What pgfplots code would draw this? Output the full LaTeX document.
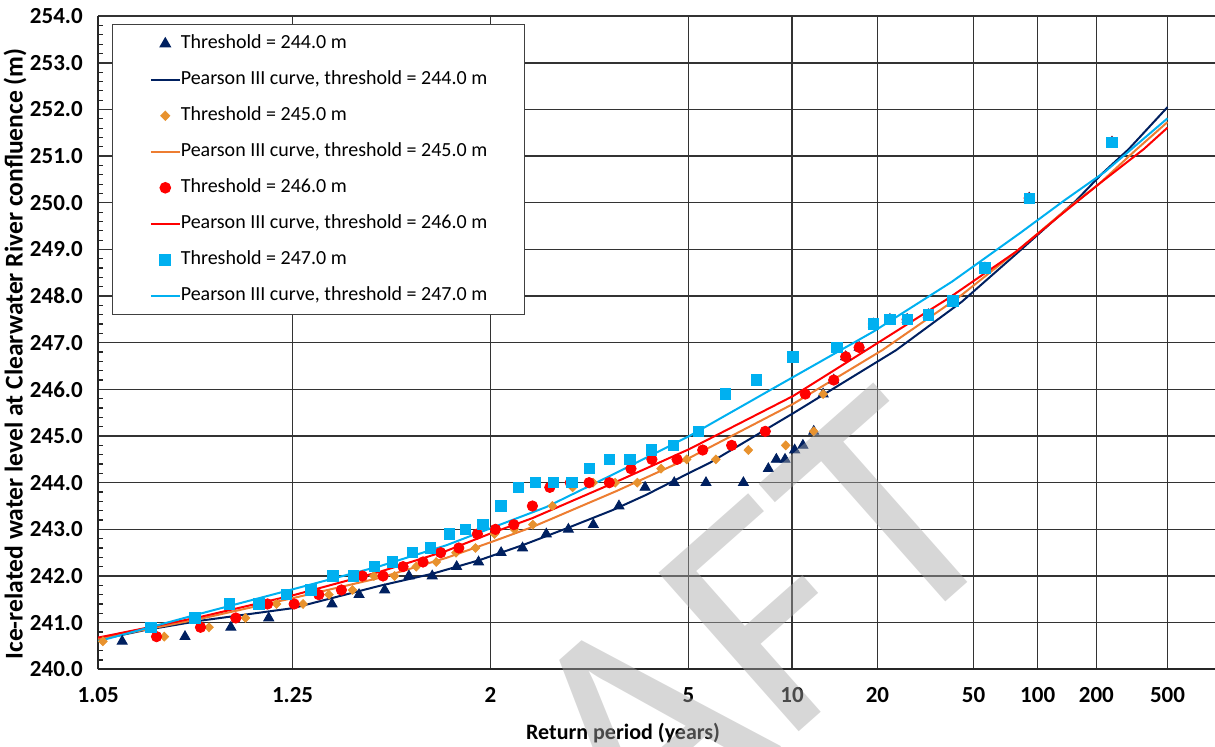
\documentclass[border=0pt]{standalone}
\usepackage{fontspec}
\setmainfont{Carlito}
\usepackage{pgfplots}
\pgfplotsset{compat=1.18}
\definecolor{navy}{HTML}{002060}
\definecolor{orng}{HTML}{ED7D31}
\definecolor{gold}{HTML}{E8922E}
\definecolor{cyanb}{HTML}{00B0F0}

% x positions are standard normal quantiles of the non-exceedance
% probability 1 - 1/T (normal probability paper)

\begin{document}
\begin{tikzpicture}
\useasboundingbox (-49.1pt,-38.85pt) rectangle (558.4pt,334.65pt);
\begin{axis}[
  at={(0,0)}, anchor=south west,
  scale only axis, width=558.4pt, height=326.55pt,
  xmin=-1.668, xmax=3.08, ymin=240, ymax=254,
  axis x line*=bottom, axis y line*=left,
  axis line style={-, black!85, line width=0.8pt},
  xtick={-1.668,-0.8416,0,0.8416,1.2816,1.6449,2.0537,2.3263,2.5758,2.8782},
  xticklabels={1.05,1.25,2,5,10,20,50,100,200,500},
  ytick distance=1, minor y tick num=4,
  grid=major, major grid style={black!80, line width=0.7pt},
  tick style={black!85, line width=0.6pt},
  major tick length=0pt, minor tick length=2.5pt,
  /pgf/number format/assume math mode=true,
  yticklabel style={/pgf/number format/fixed, /pgf/number format/fixed zerofill,
    /pgf/number format/precision=1, xshift=-4.2pt},
  xticklabel style={yshift=-5.5pt},
  tick label style={font=\fontsize{11.5}{13}\selectfont\bfseries},
  xlabel={Return period (years)},
  xlabel style={at={(axis description cs:0.47,-0.0975)}, anchor=center,
    font=\fontsize{11}{13}\selectfont\bfseries},
  ylabel={Ice-related water level at Clearwater River confluence (m)},
  ylabel style={at={(axis description cs:-0.0745,0.483)}, anchor=center,
    font=\fontsize{12.8}{14}\selectfont\bfseries},
  legend cell align=left,
  legend image code/.code={\draw[mark repeat=2,mark phase=2]
    plot coordinates {(0pt,0pt) (7.25pt,0pt) (14.5pt,0pt)};},
  legend style={at={(0,1)}, anchor=north west, xshift=7pt, yshift=-4pt,
    draw=black!75, line width=0.6pt, font=\fontsize{10}{12}\selectfont,
    inner xsep=18.5pt, inner ysep=5pt, row sep=9pt,
    nodes={inner sep=0pt, text height=7pt, text depth=2pt},
    /tikz/every even column/.append style={column sep=2pt}},
]

% Threshold = 244.0 m
\addplot[only marks, mark=triangle*, mark size=2.9pt, color=navy] coordinates {
(-1.566,240.6) (-1.299,240.7) (-1.104,240.9) (-0.943,241.1) (-0.674,241.4)
(-0.559,241.6) (-0.450,241.7) (-0.347,242.0) (-0.248,242.0) (-0.144,242.2)
(-0.051,242.3) (0.045,242.5) (0.136,242.6) (0.237,242.9) (0.331,243.0)
(0.437,243.1) (0.546,243.5) (0.657,243.9) (0.781,244.0) (0.916,244.0)
(1.075,244.0) (1.181,244.3) (1.215,244.5) (1.252,244.5) (1.293,244.7)
(1.328,244.8) (1.374,245.1) (1.414,245.9) (1.459,246.2) (1.510,246.7)
(1.567,246.9) (1.628,247.4) (1.698,247.5) (1.771,247.5) (1.861,247.6)
(1.966,247.9) (2.102,248.6) (2.290,250.1) (2.642,251.3)};
\addlegendentry{Threshold = 244.0 m}
\addplot[navy, line width=1pt] coordinates {
(-1.668,240.63) (-1.469,240.84) (-1.236,241.04) (-0.841,241.31) (-0.471,241.79)
(-0.246,242.05) (-0.047,242.34) (0.136,242.66) (0.323,243.02) (0.518,243.41)
(0.662,243.74) (0.845,244.21) (0.930,244.42) (1.287,245.49) (1.724,246.84)
(2.004,247.88) (2.234,248.90) (2.488,250.04) (2.599,250.62) (2.713,251.15)
(2.878,252.05)};
\addlegendentry{Pearson III curve, threshold = 244.0 m}

% Threshold = 245.0 m
\addplot[only marks, mark=diamond*, mark size=2.2pt, mark options={xscale=1.3}, color=gold] coordinates {
(-1.648,240.6) (-1.387,240.7) (-1.197,240.9) (-1.042,241.1) (-0.910,241.4)
(-0.797,241.4) (-0.687,241.6) (-0.587,241.7) (-0.496,242.0) (-0.408,242.0)
(-0.316,242.2) (-0.231,242.3) (-0.147,242.5) (-0.064,242.6) (0.017,242.9)
(0.101,243.0) (0.180,243.1) (0.263,243.5) (0.349,243.9) (0.436,244.0)
(0.530,244.0) (0.624,244.0) (0.725,244.3) (0.834,244.5) (0.958,244.5)
(1.096,244.7) (1.255,244.8) (1.374,245.1) (1.414,245.9) (1.459,246.2)
(1.510,246.7) (1.567,246.9) (1.628,247.4) (1.698,247.5) (1.771,247.5)
(1.861,247.6) (1.966,247.9) (2.102,248.6) (2.290,250.1) (2.642,251.3)};
\addlegendentry{Threshold = 245.0 m}
\addplot[orng, line width=1pt] coordinates {
(-1.668,240.65) (-1.236,241.08) (-0.837,241.53) (-0.471,241.96) (-0.187,242.39)
(0.004,242.73) (0.178,243.05) (0.535,243.82) (0.845,244.53) (1.287,245.69)
(1.665,246.84) (1.992,247.98) (2.234,248.95) (2.446,249.85) (2.586,250.40)
(2.743,251.13) (2.878,251.73)};
\addlegendentry{Pearson III curve, threshold = 245.0 m}

% Threshold = 246.0 m
\addplot[only marks, mark=*, mark size=2.6pt, color=red] coordinates {
(-1.420,240.7) (-1.233,240.9) (-1.083,241.1) (-0.948,241.4) (-0.835,241.4)
(-0.730,241.6) (-0.634,241.7) (-0.545,242.0) (-0.457,242.0) (-0.372,242.2)
(-0.287,242.3) (-0.212,242.5) (-0.135,242.6) (-0.056,242.9) (0.021,243.0)
(0.099,243.1) (0.178,243.5) (0.252,243.9) (0.339,244.0) (0.419,244.0)
(0.505,244.0) (0.597,244.3) (0.686,244.5) (0.793,244.5) (0.902,244.7)
(1.025,244.8) (1.168,245.1) (1.338,245.9) (1.459,246.2) (1.510,246.7)
(1.567,246.9) (1.628,247.4) (1.698,247.5) (1.771,247.5) (1.861,247.6)
(1.966,247.9) (2.102,248.6) (2.290,250.1) (2.642,251.3)};
\addlegendentry{Threshold = 246.0 m}
\addplot[red, line width=1pt] coordinates {
(-1.668,240.68) (-1.236,241.12) (-0.837,241.59) (-0.471,242.09) (-0.187,242.54)
(0.004,242.92) (0.178,243.24) (0.535,244.02) (0.845,244.72) (1.287,245.86)
(1.597,246.84) (1.949,247.96) (2.234,248.95) (2.429,249.76) (2.586,250.40)
(2.777,251.15) (2.878,251.61)};
\addlegendentry{Pearson III curve, threshold = 246.0 m}

% Threshold = 247.0 m
\addplot[only marks, mark=square*, mark size=2.6pt, color=cyanb] coordinates {
(-1.444,240.9) (-1.257,241.1) (-1.111,241.4) (-0.984,241.4) (-0.868,241.6)
(-0.764,241.7) (-0.670,242.0) (-0.582,242.0) (-0.493,242.2) (-0.416,242.3)
(-0.332,242.5) (-0.256,242.6) (-0.176,242.9) (-0.106,243.0) (-0.033,243.1)
(0.044,243.5) (0.118,243.9) (0.190,244.0) (0.268,244.0) (0.346,244.0)
(0.420,244.3) (0.505,244.5) (0.592,244.5) (0.684,244.7) (0.778,244.8)
(0.884,245.1) (0.998,245.9) (1.130,246.2) (1.285,246.7) (1.472,246.9)
(1.628,247.4) (1.698,247.5) (1.771,247.5) (1.861,247.6) (1.966,247.9)
(2.102,248.6) (2.290,250.1) (2.642,251.3)};
\addlegendentry{Threshold = 247.0 m}
\addplot[cyanb, line width=1pt] coordinates {
(-1.668,240.60) (-1.236,241.19) (-0.837,241.72) (-0.471,242.21) (-0.187,242.66)
(0.004,243.03) (0.238,243.48) (0.518,244.17) (0.845,245.00) (1.236,246.12)
(1.628,247.24) (1.962,248.31) (2.251,249.35) (2.442,250.06) (2.611,250.66)
(2.878,251.81)};
\addlegendentry{Pearson III curve, threshold = 247.0 m}
\end{axis}

% semi-transparent document watermark laid over the chart
\node[rotate=41.5, anchor=base east, inner sep=0pt,
      font=\fontsize{165}{165}\selectfont, text=black!35,
      opacity=0.45, text opacity=0.45] at (459.45pt,65.2pt) {DRAFT};
\end{tikzpicture}
\end{document}
